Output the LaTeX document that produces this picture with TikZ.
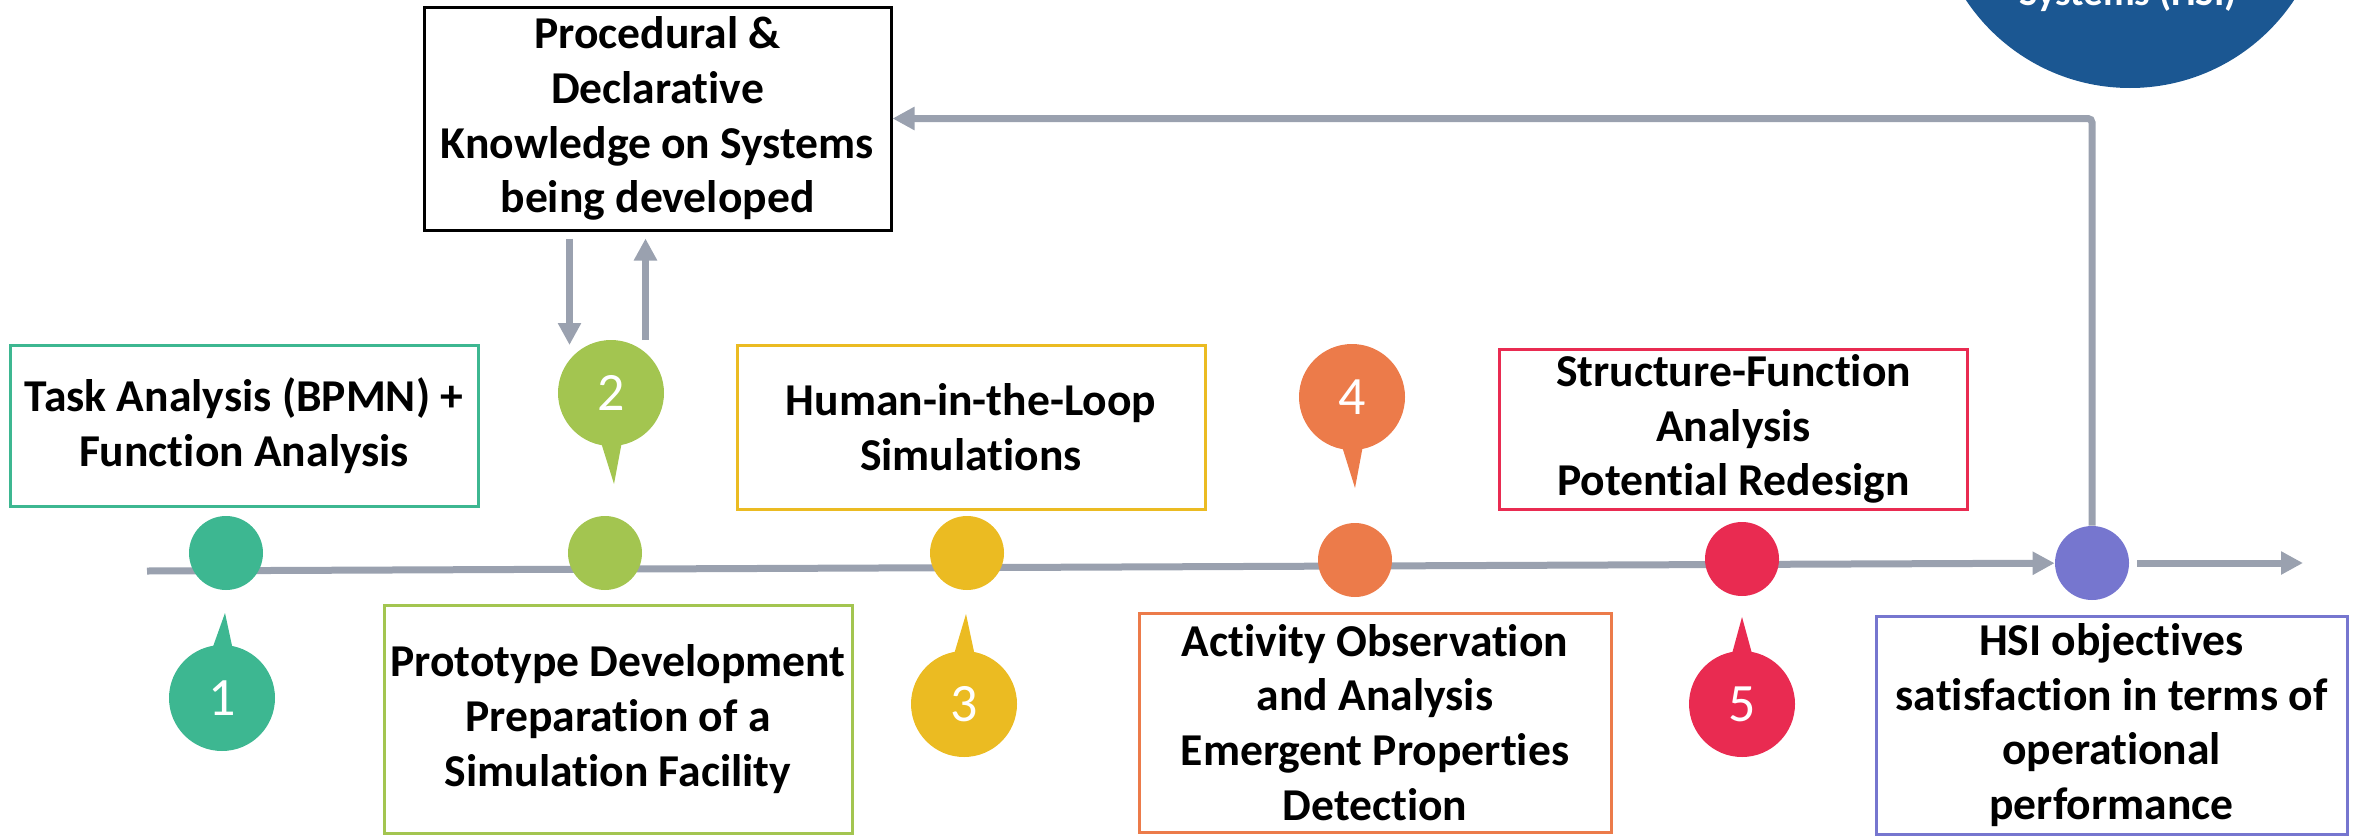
\documentclass[tikz,border=0pt]{standalone}
\usepackage{fontspec}
\setmainfont{Carlito}[Ligatures=NoCommon]
\usetikzlibrary{arrows.meta,backgrounds}

\definecolor{cteal}{HTML}{3DB791}
\definecolor{cgreen}{HTML}{A3C550}
\definecolor{cyellow}{HTML}{EBBB22}
\definecolor{corange}{HTML}{EC7B4A}
\definecolor{cred}{HTML}{E92B51}
\definecolor{cpurple}{HTML}{7676CF}
\definecolor{cblue}{HTML}{1B5792}
\definecolor{cgrey}{HTML}{9AA1AF}

\begin{document}
\begin{tikzpicture}[x=0.5pt,y=-0.5pt,
  flow/.style={draw=cgrey, line width=3.5pt, -{Triangle[length=11pt,width=11pt]}},
  stepbox/.style={draw, line width=1.5pt, fill=white, align=center, inner sep=0pt,
    minimum width=#1, font=\bfseries\fontsize{22.8}{27.4}\selectfont},
  stepbox/.default=234pt,
  marker/.style={circle, minimum size=37pt, inner sep=0pt},
  pinhead/.style={circle, minimum size=53pt, inner sep=0pt, text=white,
    font=\fontsize{27}{27}\selectfont},
]
\useasboundingbox (0,0) rectangle (2359,835);
\clip (0,0) rectangle (2359,835);

% HSI disc, mostly above the page
\node[circle, fill=cblue, minimum size=197pt, inner sep=0pt] (hsi) at (2130,-109) {};
\node[anchor=base, text=white, font=\bfseries\fontsize{19.5}{19.5}\selectfont] (hsitext) at (2128,5) {Systems (HSI)};

% knowledge box
\node[stepbox=233.5pt, draw=black, minimum height=111.5pt] (kb) at (657.5,118.5)
  {Procedural \&\\Declarative\\Knowledge on Systems\\being developed};

% step boxes
\node[stepbox, draw=cteal,   minimum height=80.5pt]  (b1) at (244,425.5)  {Task Analysis (BPMN) +\\Function Analysis};
\node[stepbox, draw=cgreen,  minimum height=114pt]   (b2) at (618,719)    {Prototype Development\\Preparation of a\\Simulation Facility};
\node[stepbox, draw=cyellow, minimum height=82pt]    (b3) at (971,427)    {Human-in-the-Loop\\Simulations};
\node[stepbox=236pt, draw=corange, minimum height=109.5pt] (b4) at (1375,722.5) {Activity Observation\\and Analysis\\Emergent Properties\\Detection};
\node[stepbox, draw=cred,    minimum height=80pt]    (b5) at (1733.5,429) {Structure-Function\\Analysis\\Potential Redesign};
\node[stepbox=235.5pt, draw=cpurple, minimum height=109pt] (b6) at (2111.5,725) {HSI objectives\\satisfaction in terms of\\operational\\performance};

% timeline markers
\node[marker, fill=cteal]   (m1) at (226,553)  {};
\node[marker, fill=cgreen]  (m2) at (605,553)  {};
\node[marker, fill=cyellow] (m3) at (967,553)  {};
\node[marker, fill=corange] (m4) at (1355,560) {};
\node[marker, fill=cred]    (m5) at (1742,559) {};
\node[marker, fill=cpurple] (m6) at (2092,563) {};

% numbered pins
\node[pinhead, fill=cteal]   (p1) at (222,698)  {1};
\node[pinhead, fill=cgreen]  (p2) at (611,393)  {2};
\node[pinhead, fill=cyellow] (p3) at (964,704)  {3};
\node[pinhead, fill=corange] (p4) at (1352,397) {4};
\node[pinhead, fill=cred]    (p5) at (1742,704) {5};
\coordinate (t1) at (225,613);
\coordinate (t2) at (614,484);
\coordinate (t3) at (966,614);
\coordinate (t4) at (1355,488);
\coordinate (t5) at (1742,617);
\fill[cteal]   ([xshift=-6pt,yshift=21.5pt]p1.center)  -- (t1) -- ([xshift=6pt,yshift=21.5pt]p1.center)  -- cycle;
\fill[cgreen]  ([xshift=-6pt,yshift=-21.5pt]p2.center) -- (t2) -- ([xshift=6pt,yshift=-21.5pt]p2.center) -- cycle;
\fill[cyellow] ([xshift=-6pt,yshift=21.5pt]p3.center)  -- (t3) -- ([xshift=6pt,yshift=21.5pt]p3.center)  -- cycle;
\fill[corange] ([xshift=-6pt,yshift=-21.5pt]p4.center) -- (t4) -- ([xshift=6pt,yshift=-21.5pt]p4.center) -- cycle;
\fill[cred]    ([xshift=-6pt,yshift=21.5pt]p5.center)  -- (t5) -- ([xshift=6pt,yshift=21.5pt]p5.center)  -- cycle;

% timeline and arrows
\coordinate (start) at (147,571);
\coordinate (finish) at (2303,563);
\coordinate (dn) at (569.5,345);
\coordinate (upfoot) at (645.5,340);
\begin{scope}[on background layer]
  \draw[flow] (start) -- (m6);
\end{scope}
\draw[flow] ([xshift=4pt]m6.east) -- (finish);
\draw[flow, rounded corners=2pt] (m6.north) |- (kb.east);
\draw[flow, shorten <=3.5pt] (kb.south -| dn) -- (dn);
\draw[flow, shorten >=3.5pt] (upfoot) -- (kb.south -| upfoot);
\end{tikzpicture}
\end{document}
